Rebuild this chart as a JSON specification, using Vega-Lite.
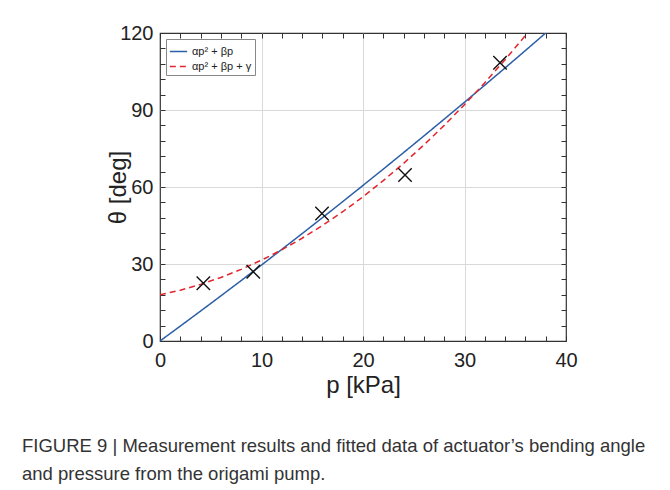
{
  "$schema": "https://vega.github.io/schema/vega-lite/v6.json",
  "width": 406,
  "height": 308,
  "autosize": {"type": "none"},
  "padding": {"left": 160, "top": 33, "right": 104, "bottom": 149},
  "background": "white",
  "config": {
    "font": "Liberation Sans",
    "view": {"stroke": "#333333", "strokeWidth": 1.2},
    "axis": {"labelFont": "Liberation Sans", "titleFont": "Liberation Sans", "labelColor": "#222", "titleColor": "#222"}
  },
  "title": {
    "text": ["FIGURE 9 | Measurement results and fitted data of actuator\u2019s bending angle", "and pressure from the origami pump."],
    "orient": "bottom",
    "anchor": "start",
    "frame": "group",
    "dx": -138,
    "offset": 40,
    "fontSize": 18.5,
    "fontWeight": "normal",
    "lineHeight": 28,
    "color": "#333333",
    "font": "Liberation Sans"
  },
  "data": {
    "values": [
      {"s": "αp² + βp", "p": 0, "t": 0},
      {"s": "αp² + βp", "p": 2, "t": 5.81},
      {"s": "αp² + βp", "p": 4, "t": 11.67},
      {"s": "αp² + βp", "p": 6, "t": 17.59},
      {"s": "αp² + βp", "p": 8, "t": 23.56},
      {"s": "αp² + βp", "p": 10, "t": 29.6},
      {"s": "αp² + βp", "p": 12, "t": 35.69},
      {"s": "αp² + βp", "p": 14, "t": 41.83},
      {"s": "αp² + βp", "p": 16, "t": 48.03},
      {"s": "αp² + βp", "p": 18, "t": 54.29},
      {"s": "αp² + βp", "p": 20, "t": 60.61},
      {"s": "αp² + βp", "p": 22, "t": 66.98},
      {"s": "αp² + βp", "p": 24, "t": 73.41},
      {"s": "αp² + βp", "p": 26, "t": 79.89},
      {"s": "αp² + βp", "p": 28, "t": 86.44},
      {"s": "αp² + βp", "p": 30, "t": 93.03},
      {"s": "αp² + βp", "p": 32, "t": 99.69},
      {"s": "αp² + βp", "p": 34, "t": 106.4},
      {"s": "αp² + βp", "p": 36, "t": 113.17},
      {"s": "αp² + βp", "p": 38, "t": 120},
      {"s": "αp² + βp + γ", "p": 0, "t": 18},
      {"s": "αp² + βp + γ", "p": 2, "t": 19.8},
      {"s": "αp² + βp + γ", "p": 4, "t": 22.06},
      {"s": "αp² + βp + γ", "p": 6, "t": 24.76},
      {"s": "αp² + βp + γ", "p": 8, "t": 27.9},
      {"s": "αp² + βp + γ", "p": 10, "t": 31.5},
      {"s": "αp² + βp + γ", "p": 12, "t": 35.54},
      {"s": "αp² + βp + γ", "p": 14, "t": 40.04},
      {"s": "αp² + βp + γ", "p": 16, "t": 44.98},
      {"s": "αp² + βp + γ", "p": 18, "t": 50.36},
      {"s": "αp² + βp + γ", "p": 20, "t": 56.2},
      {"s": "αp² + βp + γ", "p": 22, "t": 62.48},
      {"s": "αp² + βp + γ", "p": 24, "t": 69.22},
      {"s": "αp² + βp + γ", "p": 26, "t": 76.4},
      {"s": "αp² + βp + γ", "p": 28, "t": 84.02},
      {"s": "αp² + βp + γ", "p": 30, "t": 92.1},
      {"s": "αp² + βp + γ", "p": 32, "t": 100.62},
      {"s": "αp² + βp + γ", "p": 34, "t": 109.6},
      {"s": "αp² + βp + γ", "p": 36, "t": 119.02},
      {"s": "αp² + βp + γ", "p": 36.2, "t": 120},
      {"s": "meas", "p": 4.27, "t": 22.5},
      {"s": "meas", "p": 9.19, "t": 27.0},
      {"s": "meas", "p": 15.96, "t": 49.7},
      {"s": "meas", "p": 24.14, "t": 64.7},
      {"s": "meas", "p": 33.5, "t": 108.4}
    ]
  },
  "layer": [
    {
      "transform": [{"filter": "datum.s !== 'meas'"}],
      "mark": {"type": "line", "strokeWidth": 1.5, "clip": true},
      "encoding": {
        "x": {
          "field": "p", "type": "quantitative",
          "scale": {"domain": [0, 40], "nice": false, "zero": false},
          "axis": {
            "orient": "bottom",
            "values": [0,2,4,6,8,10,12,14,16,18,20,22,24,26,28,30,32,34,36,38,40],
            "labelExpr": "datum.value % 10 === 0 ? datum.label : ''",
            "labelFontSize": 20,
            "labelPadding": 14,
            "labelFlush": false,
            "labelOverlap": false,
            "tickSize": -5,
            "tickColor": "#333333",
            "domain": false,
            "grid": true,
            "gridColor": "#d9d9d9",
            "gridOpacity": {"condition": {"test": "datum.value % 10 === 0 && datum.value > 0 && datum.value < 40", "value": 1}, "value": 0},
            "title": "p [kPa]",
            "titleFontSize": 24,
            "titleFontWeight": "normal",
            "titleY": 44,
            "titleBaseline": "middle"
          }
        },
        "y": {
          "field": "t", "type": "quantitative",
          "scale": {"domain": [0, 120], "nice": false},
          "axis": {
            "orient": "left",
            "values": [0,6,12,18,24,30,36,42,48,54,60,66,72,78,84,90,96,102,108,114,120],
            "labelExpr": "datum.value % 30 === 0 ? datum.label : ''",
            "labelFontSize": 20,
            "labelPadding": 12,
            "labelFlush": false,
            "labelOverlap": false,
            "tickSize": -5,
            "tickColor": "#333333",
            "domain": false,
            "grid": true,
            "gridColor": "#d9d9d9",
            "gridOpacity": {"condition": {"test": "datum.value % 30 === 0 && datum.value > 0 && datum.value < 120", "value": 1}, "value": 0},
            "title": "θ [deg]",
            "titleFontSize": 24,
            "titleFontWeight": "normal",
            "titleX": -42,
            "titleBaseline": "middle"
          }
        },
        "color": {
          "field": "s", "type": "nominal",
          "scale": {"domain": ["αp² + βp", "αp² + βp + γ"], "range": ["#2b5fa6", "#e3262d"]},
          "legend": {
            "orient": "top-left",
            "title": null,
            "offset": 6,
            "padding": 3,
            "rowPadding": 0,
            "labelFontSize": 11,
            "labelColor": "#222",
            "symbolType": "stroke",
            "symbolSize": 300,
            "symbolStrokeWidth": 1.5,
            "strokeColor": "#888888",
            "fillColor": "white",
            "labelOffset": 4
          }
        },
        "strokeDash": {
          "field": "s", "type": "nominal",
          "scale": {"domain": ["αp² + βp", "αp² + βp + γ"], "range": [[1, 0], [6, 4]]},
          "legend": {
            "orient": "top-left",
            "title": null
          }
        }
      }
    },
    {
      "transform": [{"filter": "datum.s === 'meas'"}],
      "mark": {"type": "point", "shape": "M-1,-1L1,1M-1,1L1,-1", "filled": false, "stroke": "#111111", "strokeWidth": 1.4, "size": 180, "opacity": 1},
      "encoding": {
        "x": {
          "field": "p", "type": "quantitative",
          "axis": {
            "orient": "top",
            "values": [0,2,4,6,8,10,12,14,16,18,20,22,24,26,28,30,32,34,36,38,40],
            "labels": false,
            "tickSize": -5,
            "tickColor": "#333333",
            "domain": false,
            "grid": false,
            "title": null
          }
        },
        "y": {
          "field": "t", "type": "quantitative",
          "axis": {
            "orient": "right",
            "values": [0,6,12,18,24,30,36,42,48,54,60,66,72,78,84,90,96,102,108,114,120],
            "labels": false,
            "tickSize": -5,
            "tickColor": "#333333",
            "domain": false,
            "grid": false,
            "title": null
          }
        }
      }
    }
  ],
  "resolve": {"axis": {"x": "independent", "y": "independent"}}
}
